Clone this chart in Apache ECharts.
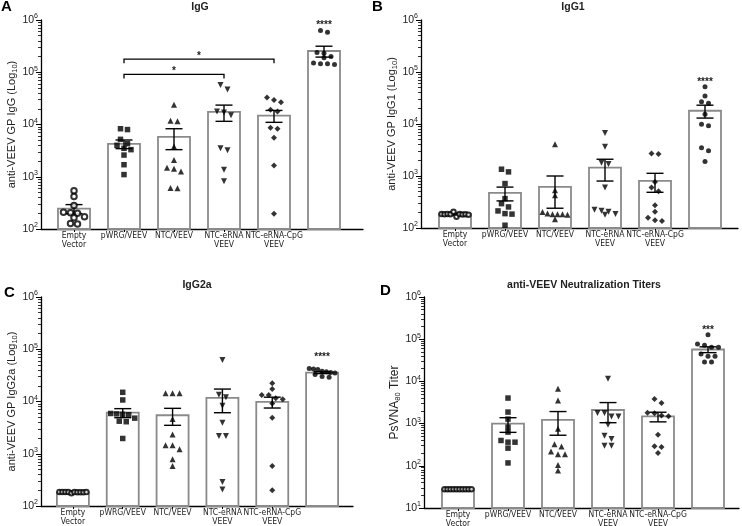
<!DOCTYPE html>
<html><head><meta charset="utf-8">
<script src="https://cdn.jsdelivr.net/npm/echarts@6/dist/echarts.min.js"></script>
<style>html,body{margin:0;padding:0;background:#fff}#c{width:742px;height:526px}</style>
</head><body><div id="c"></div>
<script>
// ---------- DATA ----------
const categories = ['Empty\nVector', 'pWRG/VEEV', 'NTC/VEEV', 'NTC-eRNA\nVEEV', 'NTC-eRNA-CpG\nVEEV', 'pWRG/VEEV\nIM-EP'];

// Panel A: IgG
const iggMeans = [245, 4250, 5800, 17500, 14800, 255000];
const iggSem = [48, 800, 2500, 6000, 3800, 60000];
const iggPoints = [
  [540, 420, 283, 210, 205, 200, 172, 165, 128, 124],
  [8300, 8000, 5200, 4300, 4000, 3500, 3300, 2600, 1700, 1100],
  [23800, 11800, 11500, 3800, 2100, 1480, 1420, 1260, 610, 600],
  [57000, 47000, 17800, 17000, 15000, 3500, 3200, 1360, 820],
  [32800, 29600, 26800, 19100, 17700, 8700, 8300, 5600, 1650, 196],
  [630000, 580000, 240000, 230000, 200000, 190000, 150000, 145000, 145000, 140000]
];
const iggBrackets = [[1, 4, 178000, '*'], [1, 3, 91000, '*']];
const iggStars = [[5, 880000, '****']];

// Panel B: IgG1
const igg1Means = [185, 472, 620, 1450, 806, 18000];
const igg1Sem = [8, 140, 380, 650, 320, 5000];
const igg1Points = [
  [185, 183, 186, 184, 205, 165, 185, 182, 184, 180],
  [1350, 1200, 715, 367, 294, 254, 213, 189, 185, 113],
  [4090, 532, 426, 203, 190, 183, 183, 183, 180, 147],
  [6750, 3640, 1800, 1700, 600, 225, 215, 205, 185, 180],
  [2700, 2650, 770, 600, 510, 275, 205, 158, 141, 137],
  [52000, 34500, 26900, 25000, 15400, 9900, 9300, 3500, 3070, 1890]
];
const igg1Stars = [[5, 72000, '****']];

// Panel C: IgG2a
const igg2aMeans = [182, 6100, 5450, 11700, 9800, 35700];
const igg2aSem = [3, 1200, 1950, 5600, 2300, 1500];
const igg2aPoints = [
  [186, 186, 186, 185, 176, 185, 184, 184, 183, 185],
  [15000, 10700, 5900, 5800, 5700, 5600, 4800, 4200, 4100, 1960],
  [14400, 14400, 14400, 4610, 2340, 1460, 1460, 1225, 787, 586],
  [62600, 13500, 12000, 8300, 3920, 2180, 2180, 289, 206],
  [22300, 17400, 13300, 13300, 11500, 11000, 9200, 4900, 586, 200],
  [43000, 42000, 41000, 38000, 37000, 36000, 35000, 33000, 30000, 29000]
];
const igg2aStars = [[5, 78000, '****']];

// Panel D: PsVNA80 neutralization titers
const nMeans = [28, 1000, 1230, 2100, 1480, 57000];
const nSem = [0.5, 380, 700, 1050, 380, 9000];
const nPoints = [
  [28, 28, 28, 28, 28, 28, 28, 28, 28, 28],
  [4030, 1875, 1280, 826, 628, 398, 363, 363, 262, 117],
  [6700, 3540, 753, 326, 286, 217, 188, 188, 105, 77],
  [11600, 1780, 1780, 1475, 1475, 935, 513, 429, 297, 297],
  [3820, 3070, 1800, 1750, 1550, 1500, 542, 290, 280, 200],
  [128000, 77300, 71600, 64100, 64100, 44700, 39300, 39300, 28900, 28900]
];
const nStars = [[5, 189000, '***']];

// ---------- STYLE / LAYOUT ----------
const FONT = '"Liberation Sans", Arial, Helvetica, sans-serif';
const NARROW = '"Liberation Sans Narrow", "Arial Narrow", "DejaVu Sans Condensed", "Liberation Sans", sans-serif';
const markers = [
  {symbol: 'emptyCircle', size: 5.5, rotate: 0},
  {symbol: 'rect', size: 5.5, rotate: 0},
  {symbol: 'triangle', size: 6, rotate: 0},
  {symbol: 'triangle', size: 6, rotate: 180},
  {symbol: 'diamond', size: 6, rotate: 0},
  {symbol: 'circle', size: 5, rotate: 0}
];

const panels = [
  {letter: 'A', title: 'IgG', yName: 'anti-VEEV GP IgG (Log{s|10})', nameSize: 11,
   means: iggMeans, sem: iggSem, pts: iggPoints, stars: iggStars, brackets: iggBrackets, yMin: 1e2, yMax: 1e6,
   L: {left: 41, top: 20, width: 322, height: 209, xMin: -0.66, xMax: 5.78, nameGap: 21,
       titleX: 200, titleY: 7, letterX: 1, letterY: 7}},
  {letter: 'B', title: 'IgG1', yName: 'anti-VEEV GP IgG1 (Log{s|10})', nameSize: 11,
   means: igg1Means, sem: igg1Sem, pts: igg1Points, stars: igg1Stars, brackets: [], yMin: 1e2, yMax: 1e6,
   L: {left: 421, top: 20, width: 317, height: 208, xMin: -0.68, xMax: 5.66, nameGap: 21,
       titleX: 573, titleY: 7, letterX: 372, letterY: 7}},
  {letter: 'C', title: 'IgG2a', yName: 'anti-VEEV GP IgG2a (Log{s|10})', nameSize: 11,
   means: igg2aMeans, sem: igg2aSem, pts: igg2aPoints, stars: igg2aStars, brackets: [], yMin: 1e2, yMax: 1e6,
   L: {left: 41, top: 297, width: 312, height: 209, xMin: -0.64, xMax: 5.62, nameGap: 21,
       titleX: 197, titleY: 285, letterX: 4, letterY: 293}},
  {letter: 'D', title: 'anti-VEEV Neutralization Titers', yName: 'PsVNA{s|80} Titer', nameSize: 12,
   means: nMeans, sem: nSem, pts: nPoints, stars: nStars, brackets: [], yMin: 1e1, yMax: 1e6,
   L: {left: 424, top: 297, width: 315, height: 211, xMin: -0.68, xMax: 5.62, nameGap: 19,
       titleX: 584, titleY: 285, letterX: 380, letterY: 291}}
];

// GraphPad-like horizontal spreading of points that share a row
function swarmOffsets(values, pxPerDecade, pxPerUnit) {
  const rowPx = 5;
  const idx = values.map((v, i) => i).sort((a, b) => values[b] - values[a]);
  const rows = [];
  let cur = null;
  idx.forEach(i => {
    const p = Math.log10(values[i]) * pxPerDecade;
    if (cur && cur.p0 - p < rowPx) cur.items.push(i);
    else { cur = {p0: p, items: [i]}; rows.push(cur); }
  });
  const offs = new Array(values.length).fill(0);
  rows.forEach(r => {
    const n = r.items.length;
    const step = Math.min(7, 30 / n);
    const order = r.items.slice().sort((a, b) => a - b);
    order.forEach((i, k) => { offs[i] = (k - (n - 1) / 2) * step / pxPerUnit; });
  });
  return offs;
}

const grids = [], xAxes = [], yAxes = [], series = [], graphics = [];

panels.forEach((P, g) => {
  const L = P.L;
  grids.push({left: L.left, top: L.top, width: L.width, height: L.height, outerBoundsMode: 'none', containLabel: false});
  xAxes.push({
    type: 'value', gridIndex: g, min: L.xMin, max: L.xMax, splitLine: {show: false},
    axisLine: {show: true, onZero: false, lineStyle: {color: '#000', width: 1.3}},
    axisTick: {show: true, customValues: [0, 1, 2, 3, 4, 5], length: 3, lineStyle: {color: '#000', width: 1}},
    axisLabel: {customValues: [0, 1, 2, 3, 4, 5], formatter: v => categories[Math.round(v)],
      fontSize: 8.5, lineHeight: 8.5, color: '#222', fontFamily: NARROW, margin: 3}
  });
  const lo = Math.round(Math.log10(P.yMin)), hi = Math.round(Math.log10(P.yMax));
  const minorLogVals = [];
  for (let e = lo; e < hi; e++) for (let k = 2; k <= 9; k++) minorLogVals.push(e + Math.log10(k));
  const decades = hi - lo;
  yAxes.push({
    type: 'log', logBase: 10, gridIndex: g, position: 'left', min: P.yMin, max: P.yMax, splitNumber: decades,
    name: P.yName, nameLocation: 'middle', nameGap: L.nameGap,
    nameTextStyle: {fontSize: P.nameSize, color: '#222', fontFamily: FONT, lineHeight: 14,
      rich: {s: {fontSize: 7.5, verticalAlign: 'bottom', lineHeight: 14, color: '#222', fontFamily: FONT}}},
    axisLine: {show: true, onZero: false, lineStyle: {color: '#000', width: 1.3}},
    axisTick: {show: true, length: 5, lineStyle: {color: '#000', width: 1}},
    splitLine: {show: false},
    axisLabel: {margin: 3, color: '#222',
      formatter: v => '{b|10}{t|' + Math.round(Math.log10(v)) + '}',
      rich: {b: {fontSize: 10.5, color: '#222', fontFamily: FONT, lineHeight: 14},
             t: {fontSize: 7, color: '#222', fontFamily: FONT, verticalAlign: 'top', lineHeight: 14}}}
  });
  // minor (log-spaced) ticks: an exponent-scaled twin axis
  yAxes.push({
    type: 'value', gridIndex: g, position: 'left', min: lo, max: hi,
    axisLine: {show: false, onZero: false}, axisLabel: {show: false}, splitLine: {show: false},
    axisTick: {show: true, customValues: minorLogVals, length: 3, lineStyle: {color: '#000', width: 0.8}}
  });
  const yIdx = 2 * g;
  const yMin = P.yMin;

  // Bars
  series.push({
    type: 'custom', xAxisIndex: g, yAxisIndex: yIdx, z: 2, silent: true,
    data: P.means.map((m, i) => [i, m]),
    renderItem: (params, api) => {
      const top = api.coord([api.value(0), api.value(1)]);
      const bot = api.coord([api.value(0), yMin]);
      return {type: 'rect', shape: {x: top[0] - 16, y: top[1], width: 32, height: bot[1] - top[1]},
        style: {fill: '#fff', stroke: '#8a8a8a', lineWidth: 1.8}};
    }
  });
  // Error bars (mean ± SEM)
  series.push({
    type: 'custom', xAxisIndex: g, yAxisIndex: yIdx, z: 3, silent: true,
    data: P.means.map((m, i) => [i, m, P.sem[i]]),
    renderItem: (params, api) => {
      const x = api.value(0), m = api.value(1), s = api.value(2);
      const hiP = api.coord([x, m + s]);
      const loP = api.coord([x, Math.max(m - s, yMin)]);
      const w = 8.5, st = {stroke: '#000', lineWidth: 1.4};
      return {type: 'group', children: [
        {type: 'line', shape: {x1: hiP[0], y1: hiP[1], x2: loP[0], y2: loP[1]}, style: st},
        {type: 'line', shape: {x1: hiP[0] - w, y1: hiP[1], x2: hiP[0] + w, y2: hiP[1]}, style: st},
        {type: 'line', shape: {x1: loP[0] - w, y1: loP[1], x2: loP[0] + w, y2: loP[1]}, style: st}
      ]};
    }
  });
  // Individual points
  const pxPerDecade = L.height / decades;
  const pxPerUnit = L.width / (L.xMax - L.xMin);
  P.pts.forEach((vals, c) => {
    const offs = swarmOffsets(vals, pxPerDecade, pxPerUnit);
    const mk = markers[c];
    series.push({
      type: 'scatter', xAxisIndex: g, yAxisIndex: yIdx, z: 4, silent: true,
      symbol: mk.symbol, symbolSize: (g > 0 && c === 0) ? 4.5 : mk.size, symbolRotate: mk.rotate,
      itemStyle: {color: '#000', borderColor: '#000', borderWidth: c === 0 ? 0.9 : 0},
      data: vals.map((v, i) => [c + offs[i], v])
    });
  });
  // Significance brackets
  if (P.brackets.length) {
    series.push({
      type: 'custom', xAxisIndex: g, yAxisIndex: yIdx, z: 5, silent: true,
      data: P.brackets.map(b => [b[0], b[1], b[2]]),
      renderItem: (params, api) => {
        const y = api.value(2);
        const p1 = api.coord([api.value(0), y]);
        const p2 = api.coord([api.value(1), y]);
        const txt = P.brackets[params.dataIndex][3];
        return {type: 'group', children: [
          {type: 'polyline', shape: {points: [[p1[0], p1[1] + 4], [p1[0], p1[1]], [p2[0], p2[1]], [p2[0], p2[1] + 4]]},
            style: {stroke: '#000', lineWidth: 1.3, fill: null}},
          {type: 'text', style: {text: txt, x: (p1[0] + p2[0]) / 2, y: p1[1] - 3, align: 'center', verticalAlign: 'middle',
            font: 'bold 10px ' + FONT, fill: '#222'}}
        ]};
      }
    });
  }
  // Significance stars above group
  series.push({
    type: 'custom', xAxisIndex: g, yAxisIndex: yIdx, z: 5, silent: true,
    data: P.stars.map(s => [s[0], s[1]]),
    renderItem: (params, api) => {
      const p = api.coord([api.value(0), api.value(1)]);
      return {type: 'text', style: {text: P.stars[params.dataIndex][2], x: p[0], y: p[1] + 2.5, align: 'center',
        verticalAlign: 'middle', font: 'bold 10px ' + FONT, fill: '#222'}};
    }
  });

  graphics.push({type: 'text', style: {text: P.title, x: L.titleX, y: L.titleY,
    align: 'center', verticalAlign: 'middle', font: 'bold 10.5px ' + FONT, fill: '#222'}});
  graphics.push({type: 'text', style: {text: P.letter, x: L.letterX, y: L.letterY,
    align: 'left', verticalAlign: 'middle', font: 'bold 15px ' + FONT, fill: '#000'}});
});

const chart = echarts.init(document.getElementById('c'), null, {renderer: 'canvas'});
chart.setOption({
  animation: false,
  backgroundColor: '#fff',
  textStyle: {fontFamily: FONT},
  grid: grids, xAxis: xAxes, yAxis: yAxes, series: series,
  graphic: graphics
});
</script></body></html>
